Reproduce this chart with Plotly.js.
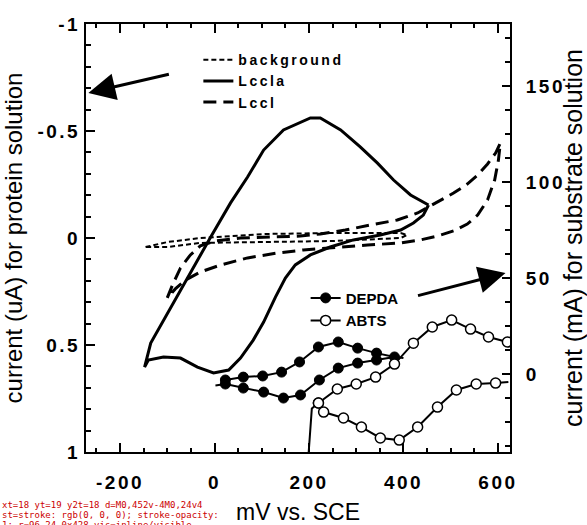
<!DOCTYPE html>
<html>
<head>
<meta charset="utf-8">
<script src="https://cdn.plot.ly/plotly-3.0.1.min.js"></script>
<style>
  body { margin: 0; padding: 0; background: #fff; }
  #chart { width: 587px; height: 525px; }
  .xtick text, .ytick text, .y2tick text { letter-spacing: 2.5px; }
  .legendtext { letter-spacing: 2.5px; }
  #dbg { position: absolute; left: 2px; top: 500px; font: 9px monospace; color: #c00; width: 230px; white-space: pre-wrap; line-height: 10px; }
</style>
</head>
<body>
<div id="chart"></div>
<div id="dbg"></div>
<script>
window.addEventListener("error", function (e) { document.getElementById("dbg").textContent += "ERR " + e.message + "\n"; });
window.addEventListener("unhandledrejection", function (e) { document.getElementById("dbg").textContent += "REJ " + (e.reason && e.reason.message) + "\n"; });

// ---- Data (mV vs. SCE) ----
// Protein solution (left axis, uA)
const bgX = [-146, -100, -30, 112, 245, 394, 408, 394, 252, 112, -30, -100, -146];
const bgY = [0.042, 0.019, 0.0, -0.019, -0.023, -0.023, -0.014, 0.0, 0.014, 0.019, 0.023, 0.042, 0.042];

const lcclaX = [453, 415, 379, 345, 309, 267, 224, 203, 146, 104, 70, 34, -8, -36, -72, -108, -135, -148,
                -140, -108, -72, -36, -2, 30, 55, 82, 104, 129, 150, 171, 203, 245, 294, 351, 394, 421, 442, 453];
const lcclaY = [-0.154, -0.201, -0.271, -0.350, -0.425, -0.505, -0.561, -0.561, -0.505, -0.411, -0.285, -0.164, -0.005, 0.103, 0.243, 0.383, 0.491, 0.603,
                0.570, 0.556, 0.561, 0.603, 0.631, 0.617, 0.561, 0.477, 0.393, 0.276, 0.187, 0.126, 0.079, 0.042, 0.009, -0.014, -0.037, -0.070, -0.107, -0.154];

const lcclX = [-100, -89, -72, -51, -30, 2, 55, 119, 182, 224, 277, 330, 387, 430, 472, 506, 535, 557, 578, 595, 605,
               601, 593, 578, 557, 535, 506, 472, 436, 394, 324, 267, 188, 133, 70, 13, -30, -61, -83, -100];
const lcclY = [0.280, 0.220, 0.140, 0.079, 0.037, 0.014, 0.0, -0.005, -0.009, -0.019, -0.037, -0.061, -0.084, -0.117, -0.168, -0.210, -0.252, -0.294, -0.346, -0.397, -0.444,
               -0.364, -0.271, -0.178, -0.107, -0.065, -0.033, -0.009, 0.009, 0.023, 0.033, 0.042, 0.056, 0.070, 0.093, 0.126, 0.159, 0.196, 0.238, 0.280];

// Substrate solution (right axis, mA)
const depdaX = [23, 61, 104, 146, 182, 222, 262, 303, 343, 381, 343, 303, 262, 220, 180, 142, 102, 61, 23];
const depdaY = [-5.2, -7.3, -9.4, -12.5, -10.9, -3.1, 3.1, 5.7, 7.3, 8.9, 10.9, 13.5, 16.7, 14.1, 6.3, 1.0, -1.0, -1.6, -3.1];
const depdaTailX = [2, 23, null, 381, 400];
const depdaTailY = [-6, -5.2, null, 8.9, 8.3];

const abtsX = [220, 260, 300, 341, 381, 421, 461, 502, 542, 580, 620, null, 595, 554, 512, 472, 430, 391, 351, 311, 273, 231, 220];
const abtsY = [-15.1, -7.8, -5.2, -1.6, 5.2, 16.1, 24.5, 28.1, 23.4, 19.3, 16.7, null, -4.7, -5.2, -8.3, -17.2, -27.6, -34.4, -33.3, -27.6, -22.9, -19.8, -15.1];
const abtsTailX = [199, 203, 206, 220, null, 595, 622];
const abtsTailY = [-42, -26, -18, -15.1, null, -4.7, -4.2];

// Tick labels (hyphen minus as printed)
const xTickText = ["-200", "0", "200", "400", "600"];
const yTickText = ["-1", "-0.5", "0", "0.5", "1"];
const y2TickText = ["0", "50", "100", "150"];

function aliasFor(labels) {
  const o = {};
  labels.forEach(function (t) { if (t.charAt(0) === "-") o["\u2212" + t.slice(1)] = t; });
  return o;
}

const FONT = "Liberation Sans, Arial, Helvetica, sans-serif";
const tickFont = { family: FONT, size: 19, color: "#000", weight: "bold" };
const legFont = { family: FONT, size: 14, color: "#000", weight: "bold" };

const traces = [
  { x: bgX, y: bgY, name: "background", type: "scatter", mode: "lines",
    line: { color: "#000", width: 2, dash: "5px,3px" }, legend: "legend" },
  { x: lcclaX, y: lcclaY, name: "Lccla", type: "scatter", mode: "lines",
    line: { color: "#000", width: 3 }, legend: "legend" },
  { x: lcclX, y: lcclY, name: "Lccl", type: "scatter", mode: "lines",
    line: { color: "#000", width: 3, dash: "13px,7px" }, legend: "legend" },
  { x: depdaTailX, y: depdaTailY, yaxis: "y2", type: "scatter", mode: "lines", showlegend: false,
    line: { color: "#000", width: 2 }, hoverinfo: "skip" },
  { x: abtsTailX, y: abtsTailY, yaxis: "y2", type: "scatter", mode: "lines", showlegend: false,
    line: { color: "#000", width: 2 }, hoverinfo: "skip" },
  { x: depdaX, y: depdaY, yaxis: "y2", name: "DEPDA", type: "scatter", mode: "lines+markers",
    line: { color: "#000", width: 2 }, marker: { color: "#000", size: 10, line: { color: "#000", width: 1 } },
    legend: "legend2" },
  { x: abtsX, y: abtsY, yaxis: "y2", name: "ABTS", type: "scatter", mode: "lines+markers",
    line: { color: "#000", width: 2 }, marker: { color: "#fff", size: 10, line: { color: "#000", width: 1.5 } },
    legend: "legend2", connectgaps: false }
];

const axisCommon = {
  showline: true, linecolor: "#000", linewidth: 2,
  ticks: "inside", ticklen: 9, tickwidth: 2, tickcolor: "#000",
  showgrid: false, zeroline: false, tickfont: tickFont, tickmode: "linear", tick0: 0
};

const layout = {
  width: 587, height: 525,
  margin: { l: 86, r: 77, t: 24, b: 73 },
  font: { family: FONT, color: "#000" },
  xaxis: Object.assign({}, axisCommon, {
    range: [-272, 625.5], dtick: 200, labelalias: aliasFor(xTickText), mirror: "ticks",
    ticklabelstandoff: 12,
    minor: { ticks: "inside", ticklen: 4, tickwidth: 2, tickcolor: "#000", dtick: 50 },
    title: { text: "mV vs. SCE", font: { family: FONT, size: 23, color: "#000" }, standoff: 14 }
  }),
  yaxis: Object.assign({}, axisCommon, {
    range: [1, -1], dtick: 0.5, labelalias: aliasFor(yTickText),
    minor: { ticks: "inside", ticklen: 5, tickwidth: 2, tickcolor: "#000", dtick: 0.1 },
    title: { text: "current (uA) for protein solution", font: { family: FONT, size: 24, color: "#000" }, standoff: 8 }
  }),
  yaxis2: Object.assign({}, axisCommon, {
    overlaying: "y", side: "right",
    range: [-40.6, 182.3], dtick: 50, labelalias: aliasFor(y2TickText), ticklen: 8,
    ticklabelstandoff: 10,
    minor: { ticks: "inside", ticklen: 5, tickwidth: 2, tickcolor: "#000", dtick: 12.5 },
    title: { text: "current (mA) for substrate solution", font: { family: FONT, size: 25, color: "#000" }, standoff: 6 }
  }),
  showlegend: true,
  legend: { x: 0.265, y: 0.953, xanchor: "left", yanchor: "top", bgcolor: "rgba(0,0,0,0)",
            font: legFont, tracegroupgap: 0, itemwidth: 30 },
  legend2: { x: 0.518, y: 0.398, xanchor: "left", yanchor: "top", bgcolor: "rgba(0,0,0,0)",
             font: { family: FONT, size: 15, color: "#000", weight: "bold" }, tracegroupgap: 0, itemwidth: 30 },
  annotations: [
    { x: -267, y: -0.678, xref: "x", yref: "y", ax: 82, ay: -19, axref: "pixel", ayref: "pixel",
      showarrow: true, arrowhead: 2, arrowsize: 1.8, arrowwidth: 3, arrowcolor: "#000", text: "" },
    { x: 616, y: 52.6, xref: "x", yref: "y2", ax: -89, ay: 23, axref: "pixel", ayref: "pixel",
      showarrow: true, arrowhead: 2, arrowsize: 1.8, arrowwidth: 3, arrowcolor: "#000", text: "" }
  ]
};

Plotly.newPlot("chart", traces, layout, { displayModeBar: false, staticPlot: true }).then(function () {
  const d = document.getElementById("dbg");
  const p = document.querySelector("path.xtick");
  let info = "xt=" + document.querySelectorAll("path.xtick").length + " yt=" + document.querySelectorAll("path.ytick").length +
             " y2t=" + document.querySelectorAll("path.y2tick").length;
  if (p) {
    const r = p.getBoundingClientRect();
    info += " d=" + p.getAttribute("d") + " st=" + (p.getAttribute("style") || "").slice(0, 40) + " r=" + Math.round(r.left) + "," + Math.round(r.top) + "," + Math.round(r.width) + "x" + Math.round(r.height);
    info += " vis=" + getComputedStyle(p).display + "/" + getComputedStyle(p).visibility;
  }
  d.textContent += info;
}).catch(function (e) { document.getElementById("dbg").textContent += "CATCH " + e.message; });
</script>
</body>
</html>
